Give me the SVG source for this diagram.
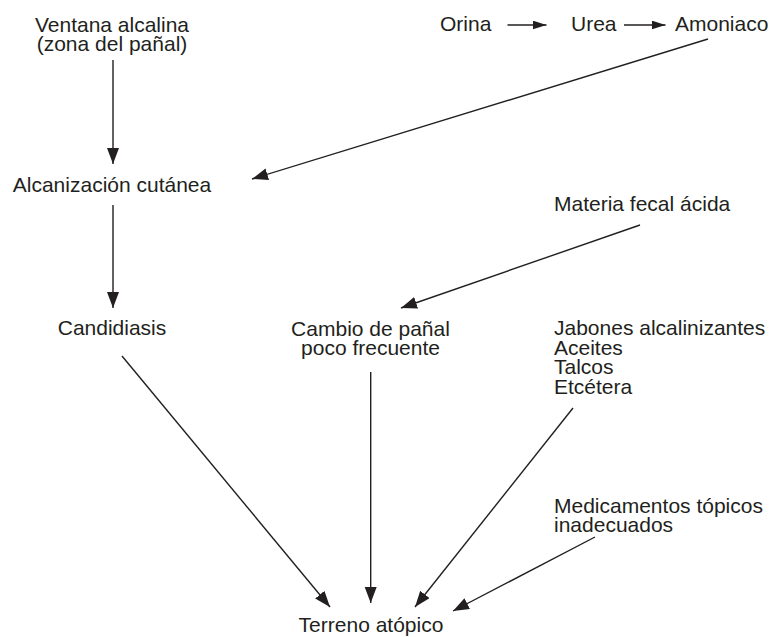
<svg xmlns="http://www.w3.org/2000/svg" width="771" height="637" viewBox="0 0 771 637">
<style>
text{font-family:"Liberation Sans",Arial,sans-serif;font-size:21px;fill:#231f20}
.c{text-anchor:middle}
.e line{stroke:#231f20;stroke-width:1.4;fill:none}
.e line.sm{stroke-width:1.6}
.big{marker-end:url(#ah)}
.sm{marker-end:url(#as)}
</style>
<defs>
<marker id="ah" markerUnits="userSpaceOnUse" markerWidth="18" markerHeight="13" refX="16" refY="6" orient="auto"><path d="M0,0 L16,6 L0,12 z" fill="#231f20"/></marker>
<marker id="as" markerUnits="userSpaceOnUse" markerWidth="15" markerHeight="10" refX="14" refY="4.5" orient="auto"><path d="M0,0 L14,4.5 L0,9 z" fill="#231f20"/></marker>
</defs>
<rect width="771" height="637" fill="#fff"/>
<g id="ventana"><text class="c" x="112" y="31.5">Ventana alcalina</text><text class="c" x="112" y="51">(zona del pañal)</text></g>
<g id="orina"><text x="440" y="31">Orina</text></g>
<g id="urea"><text x="571" y="31">Urea</text></g>
<g id="amoniaco"><text x="675" y="31">Amoniaco</text></g>
<g id="alcanizacion"><text class="c" x="112" y="192">Alcanización cutánea</text></g>
<g id="materia"><text x="554" y="211">Materia fecal ácida</text></g>
<g id="candidiasis"><text class="c" x="112" y="335">Candidiasis</text></g>
<g id="cambio"><text class="c" x="370.5" y="335.5">Cambio de pañal</text><text class="c" x="370.5" y="354.5">poco frecuente</text></g>
<g id="jabones"><text x="554" y="335">Jabones alcalinizantes</text><text x="554" y="354.5">Aceites</text><text x="554" y="374">Talcos</text><text x="554" y="393.5">Etcétera</text></g>
<g id="medicamentos"><text x="554" y="513">Medicamentos tópicos</text><text x="554" y="532">inadecuados</text></g>
<g id="terreno"><text class="c" x="371" y="632">Terreno atópico</text></g>
<g id="connectors" class="e">
<line class="sm" x1="507.5" y1="25" x2="546.5" y2="25"/>
<line class="sm" x1="624" y1="25" x2="665.5" y2="25"/>
<line class="big" x1="113" y1="60" x2="113" y2="164"/>
<line class="big" x1="708" y1="39" x2="252" y2="179"/>
<line class="big" x1="113" y1="205" x2="113" y2="308"/>
<line class="big" x1="640" y1="225" x2="401" y2="308"/>
<line class="big" x1="122" y1="356" x2="330" y2="607"/>
<line class="big" x1="370.7" y1="372" x2="370.7" y2="603"/>
<line class="big" x1="573" y1="408" x2="415" y2="607"/>
<line class="big" x1="595" y1="537" x2="453" y2="611"/>
</g>
</svg>
